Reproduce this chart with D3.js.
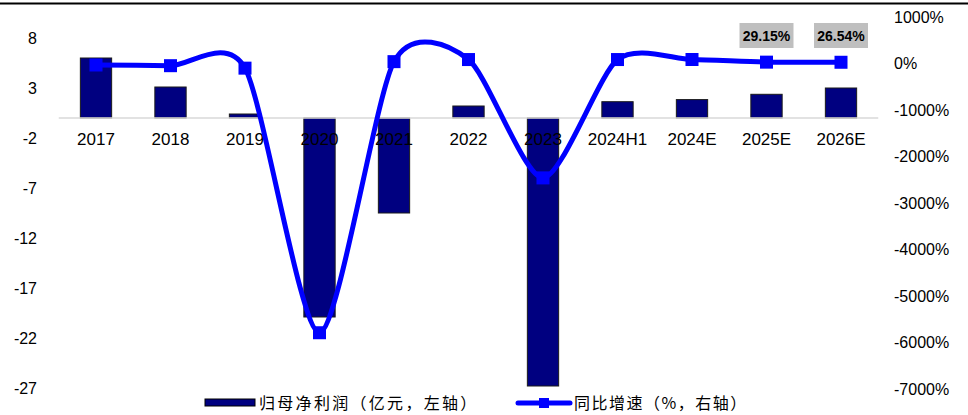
<!DOCTYPE html>
<html>
<head>
<meta charset="utf-8">
<script src="https://cdn.jsdelivr.net/npm/d3@7/dist/d3.min.js"></script>
<style>
  html, body { margin: 0; padding: 0; background: #fff; }
  svg { display: block; }
  text { font-family: "Liberation Sans", Arial, sans-serif; }
  .cjk { font-family: "Noto Sans CJK SC", sans-serif; }
</style>
</head>
<body>
<svg id="chart" width="968" height="415"></svg>
<script>
// Categories (years / periods)
const categories = ["2017", "2018", "2019", "2020", "2021", "2022", "2023", "2024H1", "2024E", "2025E", "2026E"];
// Net profit attributable to parent (100 million CNY, left axis)
const netProfit = [6.0, 3.1, 0.4, -19.9, -9.5, 1.2, -26.8, 1.63, 1.84, 2.37, 3.0];
// Year-on-year growth (%, right axis)
const yoyGrowth = [-32, -47, -100, -5790, 40, 85, -2460, 85, 86, 29.15, 26.54];
// Growth values that carry a printed label
const labelledGrowth = ["2025E", "2026E"];
// Axis tick values
const leftTicks = [8, 3, -2, -7, -12, -17, -22, -27];
const rightTicks = [1000, 0, -1000, -2000, -3000, -4000, -5000, -6000, -7000];
// Legend names
const seriesNames = ["归母净利润（亿元，左轴）", "同比增速（%，右轴）"];

const svg = d3.select("#chart");
const W = 968, H = 415;

const x = d3.scaleBand()
  .domain(categories)
  .range([58.75, 878.25])
  .paddingInner(0.58)
  .paddingOuter(0.29);

const yL = d3.scaleLinear().domain([-27, 10.1]).range([388, 17]);
const yR = d3.scaleLinear().domain([-7000, 1000]).range([389, 17]);

// top rule
svg.append("line")
  .attr("x1", 0).attr("x2", W)
  .attr("y1", 3.5).attr("y2", 3.5)
  .attr("stroke", "#000").attr("stroke-width", 2);

// left axis labels (plain hyphen for negatives)
const leftAxis = d3.axisLeft(yL).tickValues(leftTicks).tickSize(0).tickPadding(0).tickFormat(d => String(d));
svg.append("g")
  .attr("transform", "translate(37,0)")
  .call(leftAxis)
  .call(g => g.select(".domain").remove())
  .call(g => g.selectAll("text")
    .attr("font-family", "Liberation Sans, Arial, sans-serif")
    .attr("font-size", 16).attr("fill", "#000"));

// right axis labels
const rightAxis = d3.axisRight(yR).tickValues(rightTicks).tickSize(0).tickPadding(0).tickFormat(d => String(d) + "%");
svg.append("g")
  .attr("transform", "translate(894,0)")
  .call(rightAxis)
  .call(g => g.select(".domain").remove())
  .call(g => g.selectAll("text")
    .attr("font-family", "Liberation Sans, Arial, sans-serif")
    .attr("font-size", 16).attr("fill", "#000"));

// bars
svg.append("g")
  .selectAll("rect")
  .data(categories)
  .join("rect")
  .attr("x", d => x(d))
  .attr("width", x.bandwidth())
  .attr("y", (d, i) => Math.min(yL(netProfit[i]), yL(0)))
  .attr("height", (d, i) => Math.abs(yL(netProfit[i]) - yL(0)))
  .attr("fill", "#000080")
  .attr("stroke", "#1a1a1a")
  .attr("stroke-width", 1);

// zero baseline
svg.append("line")
  .attr("x1", x.range()[0]).attr("x2", x.range()[1])
  .attr("y1", yL(0)).attr("y2", yL(0))
  .attr("stroke", "#d9d9d9").attr("stroke-width", 1.5);

// category labels
const xAxis = d3.axisBottom(x).tickSize(0).tickPadding(0);
svg.append("g")
  .attr("transform", "translate(0,133)")
  .call(xAxis)
  .call(g => g.select(".domain").remove())
  .call(g => g.selectAll("text")
    .attr("font-family", "Liberation Sans, Arial, sans-serif")
    .attr("font-size", 17).attr("fill", "#000"));

// growth line
const cx = d => x(d) + x.bandwidth() / 2;
const line = d3.line()
  .x(d => cx(d))
  .y((d, i) => yR(yoyGrowth[i]))
  .curve(d3.curveCardinal.tension(0.25));

svg.append("path")
  .datum(categories)
  .attr("d", line)
  .attr("fill", "none")
  .attr("stroke", "#0000ff")
  .attr("stroke-width", 5);

const ms = 13;
svg.append("g")
  .selectAll("rect")
  .data(categories)
  .join("rect")
  .attr("x", d => cx(d) - ms / 2)
  .attr("y", (d, i) => yR(yoyGrowth[i]) - ms / 2)
  .attr("width", ms).attr("height", ms)
  .attr("fill", "#0000ff");

// growth value labels
const lbl = svg.append("g")
  .selectAll("g")
  .data(labelledGrowth)
  .join("g")
  .attr("transform", d => `translate(${cx(d)},35.5)`);
lbl.append("rect")
  .attr("x", -27).attr("y", -12.5)
  .attr("width", 54).attr("height", 25)
  .attr("fill", "#bfbfbf");
lbl.append("text")
  .attr("text-anchor", "middle")
  .attr("dy", "0.36em")
  .attr("font-size", 14)
  .attr("font-weight", "bold")
  .text(d => yoyGrowth[categories.indexOf(d)].toFixed(2) + "%");

// legend
const lg = svg.append("g");
lg.append("rect")
  .attr("x", 205).attr("y", 399)
  .attr("width", 50).attr("height", 7)
  .attr("fill", "#000080").attr("stroke", "#000").attr("stroke-width", 1);
lg.append("text")
  .attr("class", "cjk")
  .attr("x", 259).attr("y", 403)
  .attr("dy", "0.35em")
  .attr("font-size", 16)
  .attr("letter-spacing", 2.3)
  .attr("fill", "#000")
  .text(seriesNames[0]);

lg.append("line")
  .attr("x1", 518).attr("x2", 570)
  .attr("y1", 403).attr("y2", 403)
  .attr("stroke", "#0000ff").attr("stroke-width", 5)
  .attr("stroke-linecap", "round");
lg.append("rect")
  .attr("x", 539).attr("y", 398)
  .attr("width", 10).attr("height", 10)
  .attr("fill", "#0000ff");
lg.append("text")
  .attr("class", "cjk")
  .attr("x", 574).attr("y", 403)
  .attr("dy", "0.35em")
  .attr("font-size", 16)
  .attr("letter-spacing", 1.5)
  .attr("fill", "#000")
  .text(seriesNames[1]);
</script>
</body>
</html>
